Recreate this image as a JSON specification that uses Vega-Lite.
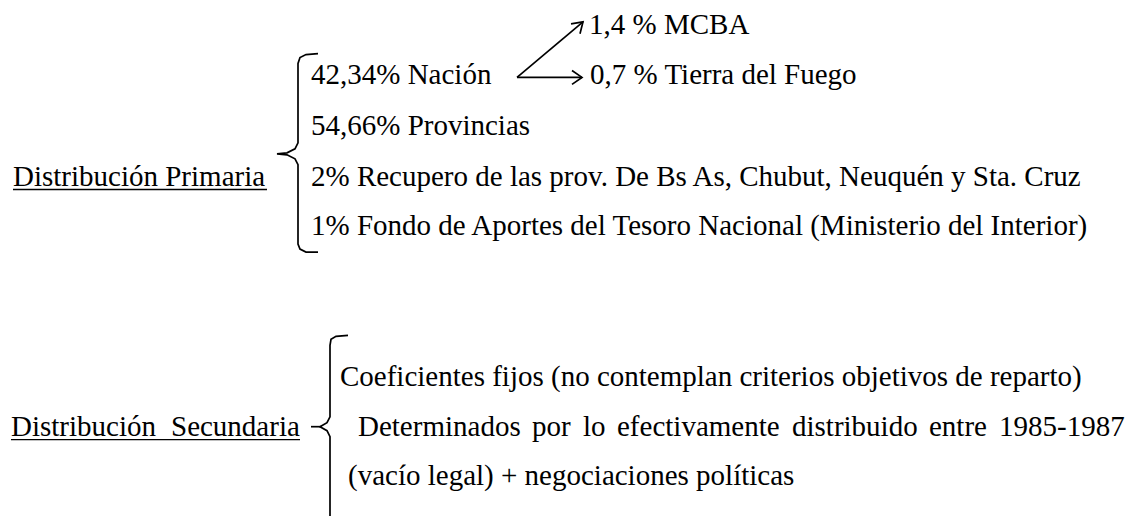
{
  "$schema": "https://vega.github.io/schema/vega-lite/v6.json",
  "autosize": {"type": "fit", "contains": "padding"},
  "width": 1141,
  "height": 520,
  "padding": 0,
  "background": "white",
  "config": {"view": {"stroke": null}},
  "datasets": {
    "texts": [
      {"label": "1,4 % MCBA", "x": 589, "y": 34},
      {"label": "42,34% Nación", "x": 311, "y": 85},
      {"label": "0,7 % Tierra del Fuego", "x": 590, "y": 85},
      {"label": "54,66% Provincias", "x": 311, "y": 136},
      {"label": "Distribución Primaria", "x": 13, "y": 187},
      {"label": "2% Recupero de las prov. De Bs As, Chubut, Neuquén y Sta. Cruz", "x": 311, "y": 187},
      {"label": "1% Fondo de Aportes del Tesoro Nacional (Ministerio del Interior)", "x": 311, "y": 237},
      {"label": "Coeficientes fijos (no contemplan criterios objetivos de reparto)", "x": 340, "y": 389},
      {"label": "Distribución", "x": 11, "y": 439},
      {"label": "Secundaria", "x": 171, "y": 439},
      {"label": "Determinados", "x": 358, "y": 439},
      {"label": "por", "x": 532, "y": 439},
      {"label": "lo", "x": 583, "y": 439},
      {"label": "efectivamente", "x": 617, "y": 439},
      {"label": "distribuido", "x": 792, "y": 439},
      {"label": "entre", "x": 929, "y": 439},
      {"label": "1985-1987", "x": 999, "y": 439},
      {"label": "(vacío legal) + negociaciones políticas", "x": 348, "y": 489}
    ],
    "underlines": [
      {"x": 13, "x2": 267, "y": 191},
      {"x": 11, "x2": 300, "y": 443}
    ],
    "strokes": [
      {"id": "b1", "o": 1, "x": 318, "y": 54},
      {"id": "b1", "o": 2, "x": 306, "y": 55},
      {"id": "b1", "o": 3, "x": 300, "y": 58},
      {"id": "b1", "o": 4, "x": 298, "y": 64},
      {"id": "b1", "o": 5, "x": 298, "y": 144},
      {"id": "b1", "o": 6, "x": 295, "y": 150},
      {"id": "b1", "o": 7, "x": 287, "y": 154},
      {"id": "b1", "o": 8, "x": 277, "y": 155},
      {"id": "b1", "o": 9, "x": 287, "y": 156},
      {"id": "b1", "o": 10, "x": 295, "y": 160},
      {"id": "b1", "o": 11, "x": 298, "y": 166},
      {"id": "b1", "o": 12, "x": 298, "y": 246},
      {"id": "b1", "o": 13, "x": 300, "y": 251},
      {"id": "b1", "o": 14, "x": 306, "y": 254},
      {"id": "b1", "o": 15, "x": 318, "y": 254},
      {"id": "b2", "o": 1, "x": 348, "y": 338},
      {"id": "b2", "o": 2, "x": 336, "y": 339},
      {"id": "b2", "o": 3, "x": 331, "y": 342},
      {"id": "b2", "o": 4, "x": 330, "y": 348},
      {"id": "b2", "o": 5, "x": 330, "y": 420},
      {"id": "b2", "o": 6, "x": 327, "y": 426},
      {"id": "b2", "o": 7, "x": 320, "y": 430},
      {"id": "b2", "o": 8, "x": 327, "y": 434},
      {"id": "b2", "o": 9, "x": 330, "y": 440},
      {"id": "b2", "o": 10, "x": 330, "y": 520},
      {"id": "b2d", "o": 1, "x": 311, "y": 430},
      {"id": "b2d", "o": 2, "x": 321, "y": 430},
      {"id": "a1", "o": 1, "x": 517, "y": 78},
      {"id": "a1", "o": 2, "x": 582, "y": 78},
      {"id": "a1h", "o": 1, "x": 572, "y": 71},
      {"id": "a1h", "o": 2, "x": 582, "y": 78},
      {"id": "a1h", "o": 3, "x": 572, "y": 85},
      {"id": "a2", "o": 1, "x": 517, "y": 78},
      {"id": "a2", "o": 2, "x": 583, "y": 22},
      {"id": "a2h", "o": 1, "x": 571, "y": 24},
      {"id": "a2h", "o": 2, "x": 583, "y": 22},
      {"id": "a2h", "o": 3, "x": 580, "y": 34}
    ]
  },
  "layer": [
    {
      "data": {"name": "strokes"},
      "mark": {"type": "line", "color": "black", "strokeWidth": 1.7},
      "encoding": {
        "x": {"field": "x", "type": "quantitative", "scale": {"domain": [0, 1141]}, "axis": null},
        "y": {"field": "y", "type": "quantitative", "scale": {"domain": [0, 520], "reverse": true}, "axis": null},
        "detail": {"field": "id"},
        "order": {"field": "o"}
      }
    },
    {
      "data": {"name": "underlines"},
      "mark": {"type": "rule", "color": "black", "strokeWidth": 1.4},
      "encoding": {
        "x": {"field": "x", "type": "quantitative", "scale": {"domain": [0, 1141]}, "axis": null},
        "x2": {"field": "x2"},
        "y": {"field": "y", "type": "quantitative", "scale": {"domain": [0, 520], "reverse": true}, "axis": null}
      }
    },
    {
      "data": {"name": "texts"},
      "mark": {"type": "text", "align": "left", "baseline": "alphabetic", "font": "Liberation Serif", "fontSize": 29, "color": "black"},
      "encoding": {
        "x": {"field": "x", "type": "quantitative", "scale": {"domain": [0, 1141]}, "axis": null},
        "y": {"field": "y", "type": "quantitative", "scale": {"domain": [0, 520], "reverse": true}, "axis": null},
        "text": {"field": "label"}
      }
    }
  ]
}
